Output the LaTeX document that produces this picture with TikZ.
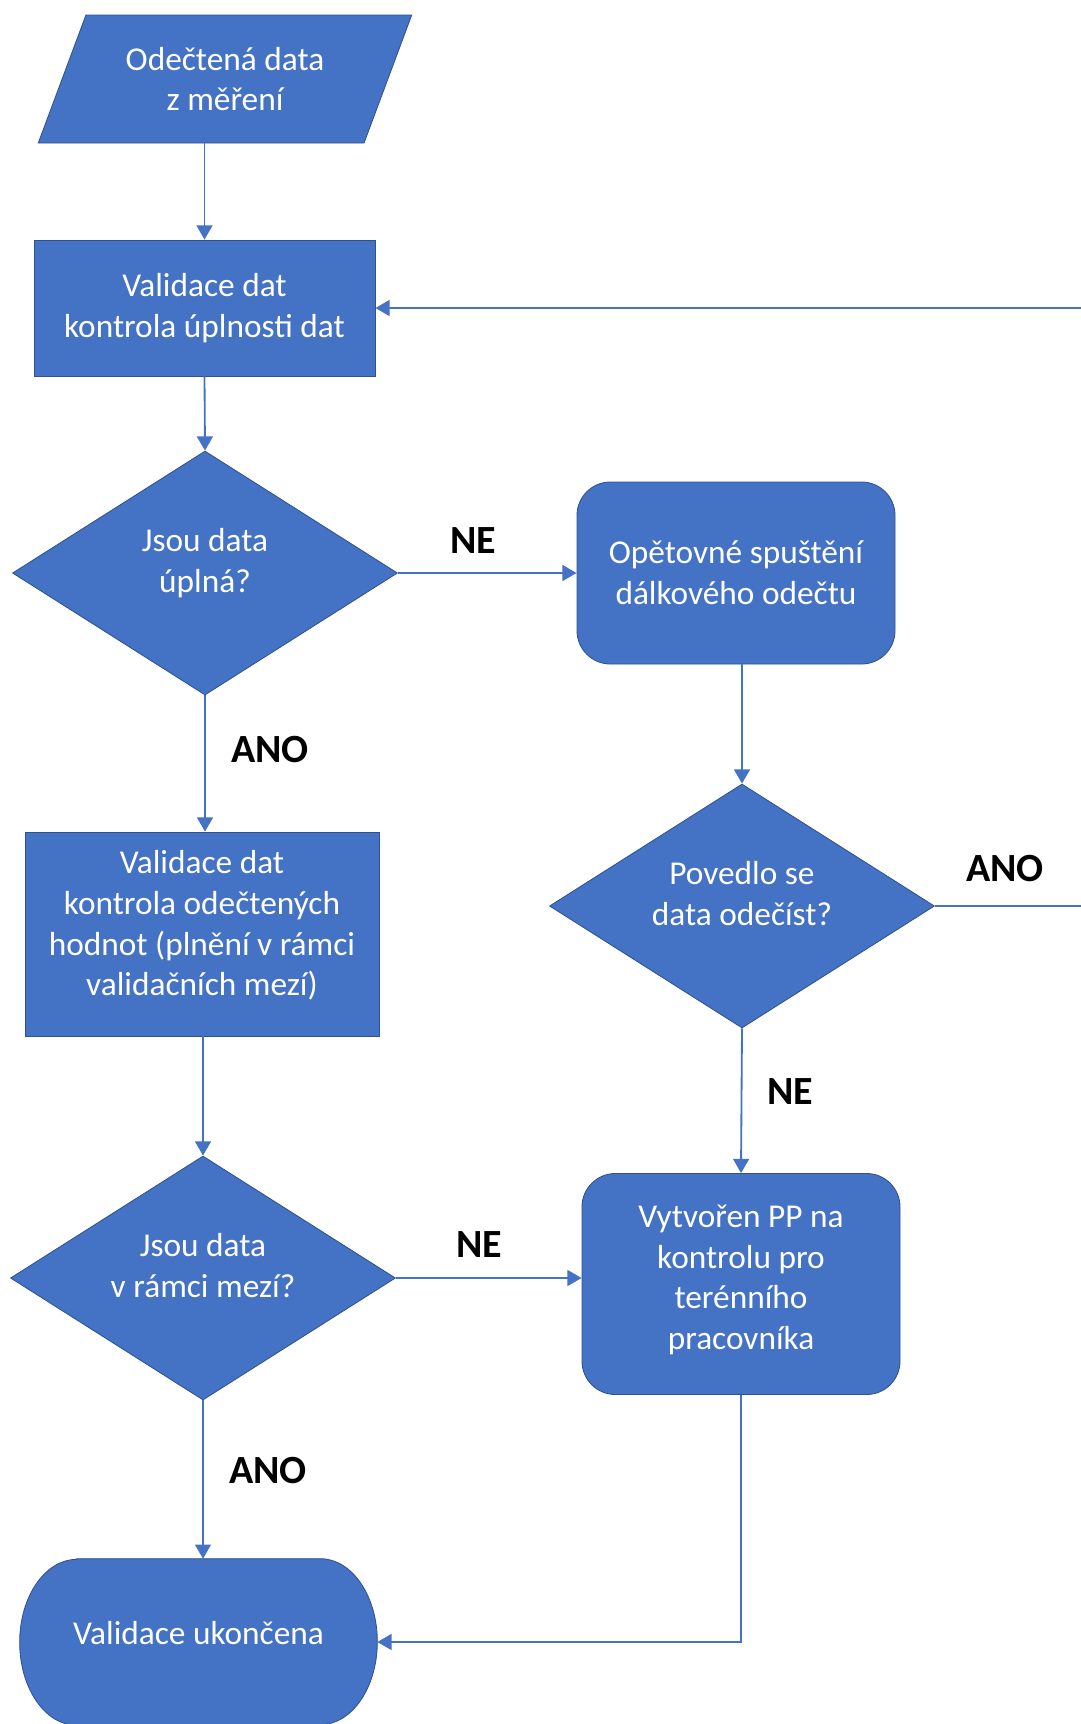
\documentclass[tikz,border=0pt]{standalone}
\usepackage{fontspec}
\setmainfont{Carlito}
\usetikzlibrary{shapes.geometric,arrows.meta,backgrounds}
\definecolor{officeblue}{HTML}{4472C4}
\definecolor{officeline}{HTML}{2F528F}

\begin{document}
\begin{tikzpicture}%
	[x=0.6pt, y=-0.6pt,
	base/.style={fill=officeblue, draw=officeline, line width=0.5pt, text=white, font=\fontsize{20}{24.4}\selectfont, align=center, inner sep=0pt},
	io/.style={base, trapezium, trapezium left angle=62, trapezium right angle=118, trapezium stretches=true, minimum width=224.4pt, minimum height=76.8pt},
	process/.style={base, rectangle},
	roundbox/.style={base, rectangle, rounded corners=20pt},
	decision/.style={base, diamond, aspect=1.58, minimum width=231pt, minimum height=146.4pt, text depth=15pt},
	terminal/.style={rectangle, text=white, font=\fontsize{20}{24.4}\selectfont, inner sep=0pt, text depth=11pt, minimum width=214.2pt, minimum height=99.6pt},
	flow/.style={draw=officeblue, line width=1.1pt, -{Triangle[width=9.5pt,length=8.5pt]}},
	answer/.style={font=\bfseries\fontsize{24}{29}\selectfont, text=black}]
%
\useasboundingbox (0,0) rectangle (1081,1724);
%%
%% Shapes
%%
\node[io] (data) at (225,79) {Odečtená data\\z měření};
\node[process, minimum width=204.6pt, minimum height=81.6pt] (check1) at (204.5,308) {Validace dat\\kontrola úplnosti dat};
\node[decision] (full) at (205,573) {Jsou data\\úplná?};
\node[roundbox, minimum width=190.8pt, minimum height=109.2pt] (retry) at (736,573) {Opětovné spuštění\\dálkového odečtu};
\node[decision] (success) at (742,906) {Povedlo se\\data odečíst?};
\node[process, minimum width=212.4pt, minimum height=122.4pt, text depth=13pt] (check2) at (202,934) {Validace dat\\kontrola odečtených\\hodnot (plnění v rámci\\validačních mezí)};
\node[decision] (limits) at (203,1278) {Jsou data\\v rámci mezí?};
\node[roundbox, minimum width=190.8pt, minimum height=132.6pt, text depth=8pt] (ticket) at (741,1284) {Vytvořen PP na\\kontrolu pro\\terénního\\pracovníka};
\node[terminal] (finish) at (198.5,1642) {Validace ukončena};
\begin{scope}[on background layer]
\fill[officeblue, draw=officeline, line width=0.5pt] ([xshift=34.2pt]finish.north west) -- ([xshift=-34.2pt]finish.north east)
	arc[start angle=90, end angle=-90, x radius=34.2pt, y radius=49.8pt] -- ([xshift=34.2pt]finish.south west)
	arc[start angle=270, end angle=90, x radius=34.2pt, y radius=49.8pt] -- cycle;
\end{scope}
%%
%% Answers
%%
\node[answer] (no1) at (473,541) {NE};
\node[answer] (yes1) at (270,750) {ANO};
\node[answer] (yes2) at (1005,869) {ANO};
\node[answer] (no2) at (790,1092) {NE};
\node[answer] (no3) at (479,1245) {NE};
\node[answer] (yes3) at (268,1471) {ANO};
%%
%% Connectors
%%
\coordinate (rim) at (1100,0);
\draw[flow] (data.south -| check1.north) -- (check1.north);
\draw[flow] (check1.south) -- (full.north);
\draw[flow] (full.east) -- (retry.west);
\draw[flow] (full.south) -- (full.south |- check2.north);
\draw[flow] (retry.south -| success.north) -- (success.north);
\draw[flow] (success.east) -- (success.east -| rim) |- (check1.east);
\draw[flow] (success.south) -- (ticket.north);
\draw[flow] (check2.south -| limits.north) -- (limits.north);
\draw[flow] (limits.east) -- (limits.east -| ticket.west);
\draw[flow] (limits.south) -- (limits.south |- finish.north);
\draw[flow] (ticket.south) |- (finish.east);
%%
\end{tikzpicture}
\end{document}
